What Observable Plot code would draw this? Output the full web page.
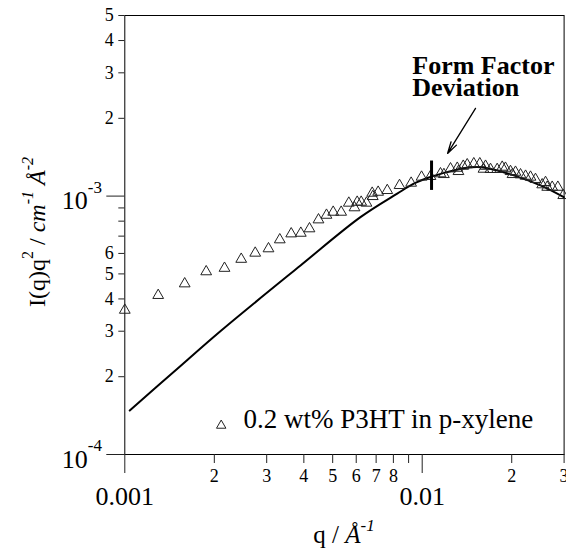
<!DOCTYPE html>
<html><head><meta charset="utf-8">
<script src="https://cdn.jsdelivr.net/npm/d3@7"></script>
<script src="https://cdn.jsdelivr.net/npm/@observablehq/plot@0.6"></script>
<style>body{margin:0;background:#fff} svg{display:block}</style>
</head><body><div id="chart"></div>
<script>
// Measured data: 0.2 wt% P3HT in p-xylene (triangles)
const dataQ = [0.00100, 0.001295, 0.00159, 0.001878, 0.002164, 0.002463, 0.002745, 0.003042, 0.00332, 0.003627,
  0.003907, 0.004178, 0.00448, 0.004766, 0.00502, 0.00534, 0.005665, 0.00592, 0.006045, 0.006235,
  0.006496, 0.00679, 0.00682, 0.00711, 0.00763, 0.00839, 0.00918, 0.00995, 0.01066, 0.01152,
  0.01183, 0.01245, 0.01312, 0.01324, 0.01374, 0.01417, 0.01491, 0.01562, 0.01607, 0.01633,
  0.01697, 0.01787, 0.01858, 0.01905, 0.01981, 0.02012, 0.02059, 0.02141, 0.02226, 0.02313,
  0.02404, 0.02532, 0.02598, 0.02632, 0.02736, 0.02858, 0.0298];
const dataI = [3.62e-4, 4.13e-4, 4.58e-4, 5.10e-4, 5.26e-4, 5.70e-4, 6.02e-4, 6.26e-4, 6.78e-4, 7.15e-4,
  7.19e-4, 7.48e-4, 8.10e-4, 8.44e-4, 8.67e-4, 8.67e-4, 9.40e-4, 9.02e-4, 9.48e-4, 9.48e-4,
  9.40e-4, 1.027e-3, 9.97e-4, 1.036e-3, 1.052e-3, 1.10e-3, 1.123e-3, 1.185e-3, 1.192e-3, 1.221e-3,
  1.213e-3, 1.276e-3, 1.283e-3, 1.246e-3, 1.306e-3, 1.323e-3, 1.335e-3, 1.335e-3, 1.272e-3, 1.306e-3,
  1.269e-3, 1.269e-3, 1.295e-3, 1.283e-3, 1.246e-3, 1.213e-3, 1.238e-3, 1.21e-3, 1.195e-3, 1.185e-3,
  1.161e-3, 1.107e-3, 1.130e-3, 1.083e-3, 1.083e-3, 1.083e-3, 1.006e-3];

// Form factor curve (solid line)
const fitQ = [0.001039, 0.001469, 0.00211, 0.003898, 0.0062, 0.00824, 0.00937, 0.01066, 0.01214,
  0.01366, 0.01531, 0.01654, 0.02032, 0.02499, 0.02993];
const fitI = [1.48e-4, 2.10e-4, 3.02e-4, 5.39e-4, 8.29e-4, 1.022e-3, 1.117e-3, 1.185e-3, 1.238e-3,
  1.278e-3, 1.295e-3, 1.283e-3, 1.203e-3, 1.10e-3, 9.91e-4];

// Deviation marker and annotation
const deviationQ = [0.01075];
const deviationI = [1.052e-3, 1.367e-3];
const arrowQ = [0.01511, 0.01217];
const arrowI = [2.186e-3, 1.463e-3];
const annotationLines = ["Form Factor", "Deviation"];
const annotationQ = [0.00926, 0.00926];
const annotationI = [3.206e-3, 2.635e-3];
const legendLabel = "0.2 wt% P3HT in p-xylene";

// Ticks
const xMajorTicks = [0.001, 0.01];
const xMajorLabels = ["0.001", "0.01"];
const xMinorTicks = [0.002, 0.003, 0.004, 0.005, 0.006, 0.007, 0.008, 0.009, 0.02, 0.03];
const xMinorLabels = ["2", "3", "4", "5", "6", "7", "8", "", "2", "3"];
const yMajorTicks = [1e-4, 1e-3];
const yMajorBase = ["10", "10"];
const yMajorExp = ["-4", "-3"];
const yMinorTicks = [2e-4, 3e-4, 4e-4, 5e-4, 6e-4, 7e-4, 8e-4, 9e-4, 2e-3, 3e-3, 4e-3, 5e-3];
const yMinorLabels = ["2", "3", "4", "5", "6", "", "", "", "2", "3", "4", "5"];

const font = "'Liberation Serif', 'Times New Roman', serif";
const points = dataQ.map((q, i) => ({q, I: dataI[i]}));
const fit = fitQ.map((q, i) => ({q, I: fitI[i]}));
const arrowData = [{x1: arrowQ[0], y1: arrowI[0], x2: arrowQ[1], y2: arrowI[1]}];
const ann = annotationLines.map((t, i) => ({t, q: annotationQ[i], I: annotationI[i]}));
const frameH = 552 - 15 - 98;

function titles(index, scales, values, dims) {
  const g = d3.create("svg:g").attr("font-family", font).attr("fill", "black");
  const cx = (dims.marginLeft + dims.width - dims.marginRight) / 2;
  const xt = g.append("text").attr("x", cx).attr("y", dims.height - 9)
    .attr("text-anchor", "middle").attr("font-size", 25);
  xt.append("tspan").text("q / ");
  xt.append("tspan").attr("font-style", "italic").text("Å");
  xt.append("tspan").attr("font-style", "italic").attr("font-size", 17).attr("dy", -12).text("-1");
  const yt = g.append("text").attr("transform", "translate(45,232) rotate(-90)")
    .attr("text-anchor", "middle").attr("font-size", 24);
  yt.append("tspan").text("I(q)q");
  yt.append("tspan").attr("font-size", 16).attr("dy", -12).text("2");
  yt.append("tspan").attr("dy", 12).text(" / ");
  yt.append("tspan").attr("font-style", "italic").text("cm");
  yt.append("tspan").attr("font-style", "italic").attr("font-size", 16).attr("dy", -12).text("-1");
  yt.append("tspan").attr("dy", 12).text(" ");
  yt.append("tspan").attr("font-style", "italic").text("Å");
  yt.append("tspan").attr("font-style", "italic").attr("font-size", 16).attr("dy", -12).text("-2");
  return g.node();
}

const chart = Plot.plot({
  width: 566, height: 552,
  marginLeft: 124.3, marginRight: 2.4, marginTop: 15, marginBottom: 98,
  style: {fontFamily: font, background: "white", color: "black", overflow: "visible"},
  x: {type: "log", domain: [0.001, 0.03], axis: null},
  y: {type: "log", domain: [1e-4, 5e-3], axis: null},
  marks: [
    Plot.frame({stroke: "black", strokeWidth: 1}),
    // x ticks (outward, below the frame)
    Plot.tickX(xMajorTicks, {x: d => d, insetTop: frameH, insetBottom: -19, stroke: "#222"}),
    Plot.tickX(xMinorTicks, {x: d => d, insetTop: frameH, insetBottom: -9, stroke: "#222"}),
    Plot.text(xMajorTicks, {x: d => d, text: (d, i) => xMajorLabels[i], frameAnchor: "bottom", lineAnchor: "top", dy: 32, fontSize: 26}),
    Plot.text(xMinorTicks, {x: d => d, text: (d, i) => xMinorLabels[i], frameAnchor: "bottom", lineAnchor: "top", dy: 14.5, fontSize: 18}),
    // y ticks (outward, left of the frame)
    Plot.tickY(yMajorTicks, {y: d => d, insetLeft: -18, insetRight: 439.3, stroke: "#222"}),
    Plot.tickY(yMinorTicks, {y: d => d, insetLeft: -6, insetRight: 439.3, stroke: "#222"}),
    Plot.text(yMinorTicks, {y: d => d, text: (d, i) => yMinorLabels[i], frameAnchor: "left", textAnchor: "end", dx: -11, fontSize: 18}),
    Plot.text(yMajorTicks, {y: d => d, text: (d, i) => yMajorBase[i], frameAnchor: "left", textAnchor: "end", dx: -37, dy: 5, fontSize: 26}),
    Plot.text(yMajorTicks, {y: d => d, text: (d, i) => yMajorExp[i], frameAnchor: "left", textAnchor: "start", dx: -37, dy: -9, fontSize: 17}),
    // data
    Plot.line(fit, {x: "q", y: "I", stroke: "black", strokeWidth: 2, curve: "catmull-rom"}),
    Plot.dot(points, {x: "q", y: "I", symbol: "triangle", r: 4, stroke: "#222", strokeWidth: 1, fill: "none"}),
    Plot.ruleX(deviationQ, {x: d => d, y1: deviationI[0], y2: deviationI[1], stroke: "black", strokeWidth: 3}),
    Plot.arrow(arrowData, {x1: "x1", y1: "y1", x2: "x2", y2: "y2", stroke: "black", strokeWidth: 1.3, headLength: 14, headAngle: 30}),
    Plot.text(ann, {x: "q", y: "I", text: "t", textAnchor: "start", fontWeight: "bold", fontSize: 26}),
    // legend
    Plot.dot([legendLabel], {frameAnchor: "bottom-left", dx: 96.4, dy: -29, symbol: "triangle", r: 3.5, stroke: "#222", strokeWidth: 1, fill: "none"}),
    Plot.text([legendLabel], {text: d => d, frameAnchor: "bottom-left", dx: 118.7, dy: -27, textAnchor: "start", fontSize: 27}),
    titles
  ]
});
document.getElementById("chart").append(chart);
</script>
</body></html>
